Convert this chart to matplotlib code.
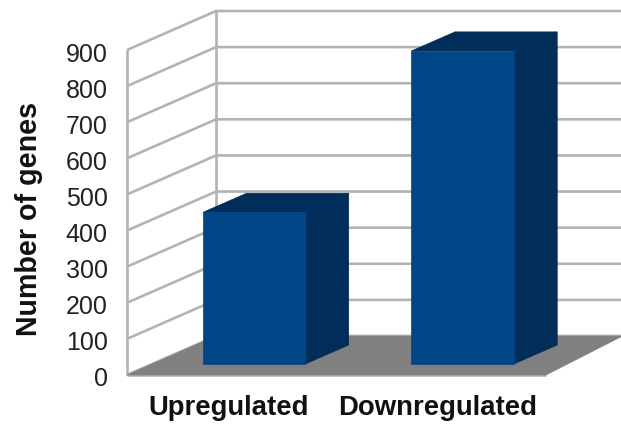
import matplotlib
matplotlib.use('Agg')
import matplotlib.pyplot as plt
import numpy as np
from matplotlib.patches import Polygon
from matplotlib.transforms import ScaledTranslation

categories = ['Upregulated', 'Downregulated']
genes = [420, 867]
ticks = [0, 100, 200, 300, 400, 500, 600, 700, 800, 900]

plt.rcParams['font.family'] = ['Liberation Sans', 'DejaVu Sans']

grid_color = '#b3b3b3'
front_color = '#004586'
side_color = '#002d59'
floor_color = '#808080'

# oblique projection: one unit of depth shifts right and up
depth_x = 0.427
depth_y = 108
bar_width = 0.49
bar_front = 0.28
bar_back = 0.77
xmin, xmax = -0.489, 1.52
floor_right = 1.46


def project(x, v, d=0.0):
    return (x + d * depth_x, v + d * depth_y)


def face(ax, points, color, z):
    ax.add_patch(Polygon([project(*p) for p in points], closed=True, facecolor=color,
                         edgecolor=color, linewidth=0.5, zorder=z, clip_on=False))


def line(ax, points):
    xs, ys = zip(*[project(*p) for p in points])
    ax.plot(xs, ys, color=grid_color, linewidth=1.9, zorder=1, clip_on=False,
            solid_capstyle='butt')


fig = plt.figure(figsize=(6.21, 4.25), dpi=100)
ax = fig.add_axes([127 / 621, 50 / 425, 419 / 621, 325 / 425])
ax.set_xlim(xmin, xmax)
ax.set_ylim(0, 900)
for s in ax.spines.values():
    s.set_visible(False)

# walls and gridlines
for t in ticks:
    line(ax, [(xmin, t, 0), (xmin, t, 1), (floor_right + 0.3, t, 1)])
line(ax, [(xmin, 0, 0), (xmin, 900, 0)])
line(ax, [(xmin, 0, 1), (xmin, 900, 1)])
line(ax, [(xmin, 0, 0), (xmax, 0, 0)])

# floor
face(ax, [(xmin, 0, 0), (xmax, 0, 0), (floor_right, 0, 1), (xmin, 0, 1)], floor_color, 2)

# bars
for i, v in enumerate(genes):
    l, r = i - bar_width / 2, i + bar_width / 2
    face(ax, [(r, 0, bar_front), (r, 0, bar_back), (r, v, bar_back), (r, v, bar_front)], side_color, 3)
    face(ax, [(l, v, bar_front), (r, v, bar_front), (r, v, bar_back), (l, v, bar_back)], side_color, 3)
    face(ax, [(l, 0, bar_front), (r, 0, bar_front), (r, v, bar_front), (l, v, bar_front)], front_color, 4)

ax.set_xticks(np.arange(len(categories)))
ax.set_xticklabels(categories, fontsize=19.8, fontweight='bold', color='#111111')
ax.set_yticks(ticks)
ax.set_yticklabels(ticks, fontsize=18, color='#222222')
ax.tick_params(axis='both', length=0)
ax.tick_params(axis='x', pad=14.5)
ax.tick_params(axis='y', pad=14)
ax.set_ylabel('Number of genes', fontsize=20.6, fontweight='bold', color='#111111')
ax.yaxis.set_label_coords(-0.2, 0.48)

# nudge the value labels down a touch
nudge = ScaledTranslation(0, -2 / 100, fig.dpi_scale_trans)
for lab in ax.get_yticklabels():
    lab.set_transform(lab.get_transform() + nudge)

plt.savefig('out.png', dpi=100)
